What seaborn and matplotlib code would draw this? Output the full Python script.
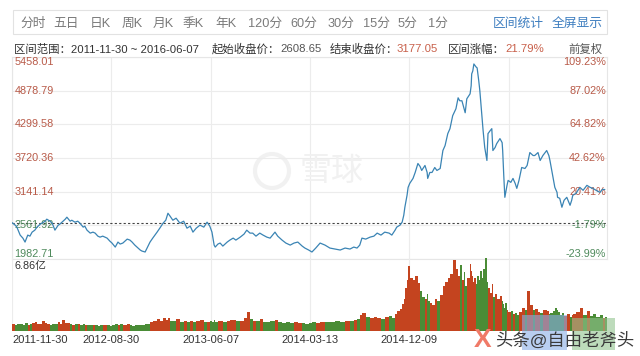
import numpy as np
import pandas as pd
import matplotlib.pyplot as plt
import matplotlib.patches as mpatches
import seaborn as sns

# trading-day index of each sampled close (0 = 2011-11-30)
days = [0, 6, 9, 15, 20, 24, 29, 33, 37, 42, 46, 52, 55, 61, 64, 70, 74, 79, 85, 88,
        92, 98, 101, 107, 110, 116, 121, 125, 131, 134, 138, 144, 149, 153, 158, 162, 167, 175, 180, 184,
        190, 195, 199, 204, 208, 212, 217, 221, 226, 230, 236, 239, 245, 254, 259, 267, 272, 278, 283, 287,
        291, 296, 302, 309, 316, 322, 328, 333, 339, 346, 353, 359, 364, 368, 372, 374, 379, 383, 388, 396,
        401, 407, 412, 420, 427, 432, 438, 443, 449, 456, 462, 469, 475, 484, 489, 497, 504, 512, 519, 526,
        534, 539, 546, 552, 559, 567, 576, 585, 594, 604, 613, 622, 629, 635, 640, 644, 651, 659, 666, 672,
        679, 686, 694, 699, 705, 708, 714, 718, 721, 723, 727, 729, 732, 738, 742, 747, 751, 754, 760, 764,
        765, 769, 773, 778, 782, 788, 793, 797, 802, 806, 811, 817, 821, 824, 828, 832, 834, 837, 843, 845,
        846, 848, 850, 854, 856, 859, 861, 865, 867, 870, 874, 876, 880, 883, 885, 889, 892, 898, 902, 903,
        905, 907, 911, 913, 918, 922, 926, 929, 933, 938, 944, 948, 953, 959, 962, 968, 972, 977, 984, 988,
        990, 995, 999, 1003, 1004, 1008, 1012, 1016, 1021, 1027, 1030, 1032, 1038, 1045, 1051, 1058, 1064, 1069, 1075, 1082,
        1087, 1091]

close = [2608.65, 2565, 2531, 2394, 2342, 2274, 2394, 2376, 2445, 2479, 2531, 2582, 2599, 2633, 2668, 2633, 2599, 2479, 2565, 2582,
         2616, 2668, 2702, 2633, 2650, 2616, 2633, 2599, 2531, 2548, 2479, 2428, 2445, 2428, 2376, 2359, 2376, 2342, 2291, 2257,
         2188, 2274, 2240, 2257, 2291, 2325, 2308, 2274, 2222, 2188, 2137, 2120, 2103, 2274, 2342, 2445, 2513, 2599, 2650, 2770,
         2719, 2650, 2685, 2599, 2633, 2513, 2548, 2445, 2513, 2565, 2531, 2616, 2548, 2445, 2222, 2188, 2240, 2257, 2205, 2274,
         2308, 2342, 2308, 2359, 2411, 2479, 2428, 2428, 2376, 2428, 2394, 2359, 2342, 2445, 2376, 2308, 2257, 2222, 2257, 2274,
         2205, 2171, 2137, 2103, 2171, 2257, 2222, 2171, 2154, 2137, 2171, 2154, 2188, 2171, 2222, 2342, 2325, 2359, 2376, 2428,
         2394, 2445, 2428, 2394, 2479, 2531, 2565, 2616, 2736, 2873, 3078, 3215, 3284, 3369, 3472, 3626, 3575, 3506, 3592, 3472,
         3369, 3472, 3472, 3557, 3506, 3540, 3849, 3934, 4140, 4225, 4448, 4568, 4756, 4705, 4705, 4568, 4499, 4739, 4824, 4962,
         5167, 5218, 5338, 5287, 5270, 5047, 4876, 4414, 4191, 3900, 3678, 4140, 4191, 4225, 3849, 3900, 3968, 4054, 3985, 3849,
         3420, 3044, 3250, 3335, 3301, 3369, 3284, 3198, 3335, 3557, 3540, 3592, 3814, 3763, 3763, 3814, 3678, 3763, 3849, 3763,
         3678, 3420, 3215, 3130, 3044, 3027, 2873, 2993, 3044, 2907, 2993, 3078, 3112, 3215, 3164, 3250, 3215, 3198, 3164, 3130,
         3181, 3177.05]

# volume in 亿
volume = [0.62, 0.55, 0.7, 0.66, 0.58, 0.74, 0.6, 0.68, 0.72, 0.8,
          0.65, 0.7, 0.9, 0.75, 0.62, 0.58, 0.66, 0.7, 0.82, 0.64,
          1.05, 0.72, 0.78, 0.66, 0.6, 0.7, 0.62, 0.55, 0.64, 0.6,
          0.58, 0.52, 0.6, 0.55, 0.5, 0.56, 0.6, 0.52, 0.5, 0.54,
          0.62, 0.58, 0.7, 0.55, 0.6, 0.66, 0.58, 0.5, 0.55, 0.6,
          0.52, 0.58, 0.62,
          0.85, 0.9, 1.1, 0.95, 1.2, 1.05, 1.25, 0.98, 0.9, 1.1,
          0.86, 0.95, 0.8, 0.92, 0.85, 0.9, 1.0, 0.88, 0.82, 0.95, 0.85,
          1.0, 0.85, 0.9, 0.95, 0.88, 0.92, 1.0, 1.05, 0.9, 0.95,
          1.2, 1.75, 1.1, 0.95, 0.9, 1.15, 0.85, 0.8, 0.9, 1.0,
          0.85, 0.78, 0.82, 0.75, 0.8, 0.72, 0.78, 0.7, 0.75, 0.8, 0.72, 0.85,
          0.85, 0.8, 0.9, 0.82, 0.95, 0.9, 1.0, 1.1, 1.5, 1.7,
          1.3, 1.2, 1.35, 1.25, 1.1, 1.3, 1.45, 1.2, 1.6, 1.9, 2.1, 2.5,
          3.0, 4.0, 4.8, 6.1, 5.0, 4.8, 5.2, 4.5, 3.8, 3.2, 3.0, 3.5, 2.8, 2.6, 2.4, 3.0, 2.8, 3.4,
          4.2, 4.6, 5.0, 5.4, 6.7, 5.8, 5.2, 6.2, 4.8, 5.5, 4.2, 5.0, 6.3, 5.6, 5.2, 4.6, 5.0, 4.4,
          5.2, 4.8, 5.6, 5.0, 5.8, 6.86, 4.6,
          4.0, 3.6, 4.4, 3.2, 3.5, 3.0, 3.3, 2.8, 2.5, 2.2, 2.6, 2.0, 1.8, 1.9, 1.6, 1.7, 1.5, 1.8,
          2.2, 2.0, 3.8, 2.4, 2.0, 2.1, 1.8, 1.7, 2.0, 1.9, 1.6, 1.7,
          1.9, 2.2, 2.0, 1.8, 1.5, 1.7, 1.4, 1.6, 1.3, 1.5, 1.6, 1.8, 2.2, 1.5, 1.9, 1.4, 1.6, 1.3, 1.5, 1.2, 1.3]

price_ticks = [1982.71, 2561.92, 3141.14, 3720.36, 4299.58, 4878.79, 5458.01]
pct_labels = ['-23.99%', '-1.79%', '20.41%', '42.62%', '64.82%', '87.02%', '109.23%']
start_close = 2608.65
date_ticks = [0, 182, 366, 548, 731, 915]
date_labels = ['2011-11-30', '2012-08-30', '2013-06-07', '2014-03-13', '2014-12-09', '']
vol_max = 6.86

tabs = ['分时', '五日', '日K', '周K', '月K', '季K', '年K', '120分', '60分', '30分', '15分', '5分', '1分']
tab_x = [20, 53, 90, 122, 153, 183, 215, 248, 290, 328, 363, 398, 428]

df = pd.DataFrame({'day': days, 'close': close, 'volume': volume})
df['up'] = df['close'].diff().fillna(1) >= 0
widths = np.append(np.diff(df['day']), 4)

sns.set_theme(style='white')
plt.rcParams['font.family'] = ['Liberation Sans', 'Noto Sans CJK SC', 'DejaVu Sans']

RED = '#b85a48'
GREEN = '#4f8a5c'
GRID = '#ececec'

fig = plt.figure(figsize=(6.4, 3.56), dpi=100)
W, H = 640, 356


def fx(px):
    return px / W


def fy(py):
    return 1 - py / H


# 雪球 watermark (behind everything)
fig.add_artist(mpatches.Ellipse((fx(272), fy(171)), 34 / W, 34 / H, transform=fig.transFigure,
                                fill=False, edgecolor='#f1f1f1', linewidth=3, zorder=0))
fig.text(fx(332), fy(172), '雪球', ha='center', va='center', fontsize=23, color='#f1f1f1', zorder=0)

ax = fig.add_axes([fx(12), fy(259), fx(595), (259 - 57) / H])
axv = fig.add_axes([fx(12), fy(331), fx(595), (331 - 258) / H])
ax.patch.set_alpha(0)
axv.patch.set_alpha(0)

# price line
sns.lineplot(data=df, x='day', y='close', ax=ax, color='#3a84b4', linewidth=0.9,
             estimator=None, zorder=4)
ax.axhline(start_close, color='#444444', linestyle=(0, (2, 2)), linewidth=0.8, zorder=3)
ax.set_ylim(price_ticks[0], price_ticks[-1])
ax.set_xlim(0, 1095)
ax.set_yticks(price_ticks)
ax.set_xticks(date_ticks)
ax.grid(True, color=GRID, linewidth=0.8)
ax.tick_params(left=False, bottom=False, labelleft=False, labelbottom=False)
ax.set_xlabel('')
ax.set_ylabel('')
for s in ax.spines.values():
    s.set_color('#e6e6e6')
    s.set_linewidth(0.8)

trans = ax.get_yaxis_transform()
for i, (v, p) in enumerate(zip(price_ticks, pct_labels)):
    va = 'center'
    if i == 0:
        va = 'bottom'
    elif i == len(price_ticks) - 1:
        va = 'top'
    col = GREEN if v < start_close else RED
    ax.text(0.004, v, f'{v:.2f}', transform=trans, ha='left', va=va, fontsize=7.8, color=col, zorder=3)
    ax.text(0.998, v, p, transform=trans, ha='right', va=va, fontsize=7.8, color=col, zorder=3)

# volume bars
bar_cols = np.where(df['up'], '#c4441f', '#4a8c36')
axv.bar(df['day'], df['volume'], width=widths, align='edge', color=bar_cols, linewidth=0)
axv.set_xlim(0, 1095)
axv.set_ylim(0, vol_max)
axv.set_xticks(date_ticks, date_labels)
axv.xaxis.grid(True, color=GRID, linewidth=0.8)
axv.set_yticks([])
axv.tick_params(axis='x', length=0, pad=3, labelsize=8, labelcolor='#333333')
axv.get_xticklabels()[0].set_ha('left')
for s in axv.spines.values():
    s.set_visible(False)
axv.text(0.004, 0.96, '6.86亿', transform=axv.transAxes, ha='left', va='top', fontsize=7.8, color='#333333')

# toolbar
fig.add_artist(mpatches.Rectangle((fx(13), fy(34)), fx(594), 24 / H, transform=fig.transFigure,
                                  fill=False, edgecolor='#e2e2e2', linewidth=0.8))
for t, x in zip(tabs, tab_x):
    fig.text(fx(x), fy(24), t, ha='left', va='center', fontsize=9.2, color='#7a7a7a')
fig.text(fx(493), fy(24), '区间统计', ha='left', va='center', fontsize=9.2, color='#3f7fc0')
fig.text(fx(552), fy(24), '全屏显示', ha='left', va='center', fontsize=9.2, color='#3f7fc0')

# info row
info = [(14, '区间范围：2011-11-30 ~ 2016-06-07', '#333333'),
        (212, '起始收盘价：', '#333333'), (280, '2608.65', '#555555'),
        (330, '结束收盘价：', '#333333'), (397, '3177.05', '#c8604a'),
        (448, '区间涨幅：', '#333333'), (505, '21.79%', '#c8604a')]
for x, t, c in info:
    fig.text(fx(x), fy(49), t, ha='left', va='center', fontsize=8.2, color=c)
fig.text(fx(603), fy(49), '前复权', ha='right', va='center', fontsize=8.2, color='#555555')

# bottom-right watermark
fig.add_artist(mpatches.Rectangle((fx(522), fy(350)), 45 / W, 35 / H, transform=fig.transFigure,
                                  color='#8aaee6', alpha=0.6, linewidth=0))
fig.add_artist(mpatches.Rectangle((fx(572), fy(350)), 43 / W, 32 / H, transform=fig.transFigure,
                                  color='#92c48f', alpha=0.6, linewidth=0))
fig.text(fx(474), fy(340), 'X', ha='left', va='center', fontsize=19, color='#f07a68', fontweight='bold')
fig.text(fx(495), fy(340), '头条@自由老斧头', ha='left', va='center', fontsize=12.5, color='#3a3a3a')

fig.savefig('out.png', dpi=100)
